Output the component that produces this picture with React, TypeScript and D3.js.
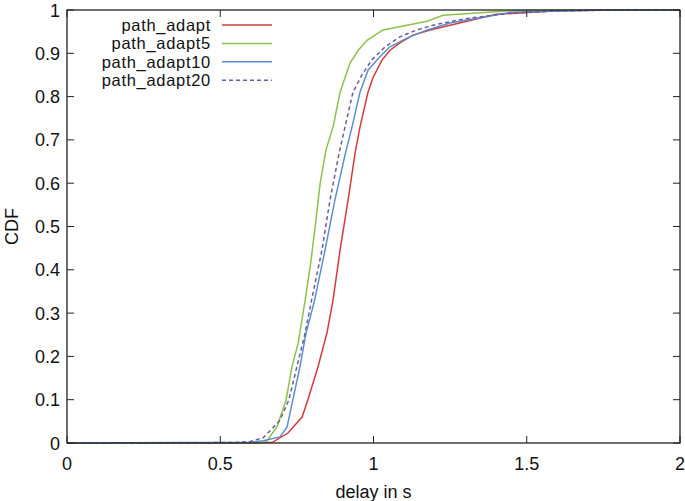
import React from 'react';
import * as d3 from 'd3';

// CDF samples: [delay in s, CDF]
const adapt: [number, number][] = [
  [0, 0], [0.62, 0], [0.672, 0.002], [0.721, 0.023], [0.767, 0.06], [0.786, 0.1],
  [0.819, 0.176], [0.848, 0.254], [0.868, 0.33], [0.891, 0.446], [0.917, 0.561],
  [0.94, 0.67], [0.956, 0.73], [0.982, 0.81], [0.999, 0.845], [1.028, 0.885],
  [1.054, 0.907], [1.086, 0.924], [1.129, 0.942], [1.185, 0.954], [1.25, 0.965],
  [1.4, 0.99], [1.6, 0.998], [1.8, 1], [2, 1],
];
const adapt5: [number, number][] = [
  [0, 0], [0.62, 0], [0.65, 0.003], [0.685, 0.037], [0.715, 0.1], [0.734, 0.176],
  [0.754, 0.23], [0.777, 0.33], [0.796, 0.42], [0.813, 0.52], [0.826, 0.6],
  [0.845, 0.677], [0.868, 0.73], [0.891, 0.81], [0.923, 0.877], [0.95, 0.907],
  [0.979, 0.93], [1.031, 0.954], [1.109, 0.965], [1.175, 0.974], [1.227, 0.988],
  [1.445, 0.998], [1.6, 1], [2, 1],
];
const adapt10: [number, number][] = [
  [0, 0], [0.6, 0.002], [0.64, 0.005], [0.695, 0.014], [0.718, 0.037], [0.737, 0.1],
  [0.76, 0.176], [0.78, 0.254], [0.808, 0.33], [0.842, 0.446], [0.874, 0.561],
  [0.907, 0.665], [0.93, 0.73], [0.956, 0.81], [0.982, 0.861], [1.021, 0.892],
  [1.054, 0.915], [1.109, 0.935], [1.175, 0.954], [1.25, 0.97], [1.45, 0.995],
  [1.75, 1], [2, 1],
];
const adapt20: [number, number][] = [
  [0, 0], [0.55, 0.001], [0.6, 0.004], [0.64, 0.012], [0.672, 0.035], [0.695, 0.053],
  [0.724, 0.1], [0.75, 0.176], [0.777, 0.254], [0.798, 0.33], [0.832, 0.446],
  [0.858, 0.561], [0.888, 0.67], [0.907, 0.73], [0.933, 0.81], [0.962, 0.85],
  [0.995, 0.885], [1.038, 0.915], [1.086, 0.938], [1.142, 0.954], [1.194, 0.965],
  [1.3, 0.98], [1.45, 0.993], [1.6, 0.998], [1.8, 1], [2, 1],
];

const seriesNames = ['path_adapt', 'path_adapt5', 'path_adapt10', 'path_adapt20'];
const seriesData = [adapt, adapt5, adapt10, adapt20];
const colors = ['#d23c3c', '#8dc14b', '#5b8fd2', '#6c5c9c'];
const dashes = [null, null, null, '4,3'];

const xTicks = [0, 0.5, 1, 1.5, 2];
const yTicks = [0, 0.1, 0.2, 0.3, 0.4, 0.5, 0.6, 0.7, 0.8, 0.9, 1];

const W = 685, H = 501;
const left = 67, right = 680, top = 10, bottom = 443;
const font = '"Liberation Sans", Arial, Helvetica, sans-serif';

const App = () => {
  const x = d3.scaleLinear().domain([0, 2]).range([left, right]);
  const y = d3.scaleLinear().domain([0, 1]).range([bottom, top]);
  const line = d3.line<[number, number]>().x(d => x(d[0])).y(d => y(d[1]));
  const tl = 7;

  return (
    <svg width={W} height={H} style={{ position: 'absolute', left: 0, top: 0, background: '#fff' }}
      fontFamily={font} fontSize={18}>
      <rect width={W} height={H} fill="#fff" />
      {seriesData.map((s, i) => (
        <path key={i} d={line(s) || ''} fill="none" stroke={colors[i]} strokeWidth={1.5}
          strokeDasharray={dashes[i] || undefined} />
      ))}
      {/* frame */}
      <rect x={left} y={top} width={right - left} height={bottom - top} fill="none" stroke="#222" strokeWidth={1.3} />
      {xTicks.map(t => (
        <g key={'x' + t}>
          <line x1={x(t)} x2={x(t)} y1={bottom} y2={bottom - tl} stroke="#222" />
          <line x1={x(t)} x2={x(t)} y1={top} y2={top + tl} stroke="#222" />
          <text x={x(t)} y={bottom + 27} textAnchor="middle" fill="#111">{t}</text>
        </g>
      ))}
      {yTicks.map(t => (
        <g key={'y' + t}>
          <line x1={left} x2={left + tl} y1={y(t)} y2={y(t)} stroke="#222" />
          <line x1={right} x2={right - tl} y1={y(t)} y2={y(t)} stroke="#222" />
          <text x={left - 7} y={y(t) + 6.5} textAnchor="end" fill="#111">{t}</text>
        </g>
      ))}
      <text x={(left + right) / 2} y={498} textAnchor="middle" fill="#111">delay in s</text>
      <text transform={`translate(18,${(top + bottom) / 2}) rotate(-90)`} textAnchor="middle" fill="#111">CDF</text>
      {seriesNames.map((n, i) => {
        const ly = 25 + i * 18.4;
        return (
          <g key={n}>
            <text x={211} y={ly + 6} textAnchor="end" fill="#111" fontSize={16.5}
              letterSpacing={0.7}>{n}</text>
            <line x1={222} x2={272} y1={ly} y2={ly} stroke={colors[i]} strokeWidth={1.5}
              strokeDasharray={dashes[i] || undefined} />
          </g>
        );
      })}
    </svg>
  );
};

export default App;
